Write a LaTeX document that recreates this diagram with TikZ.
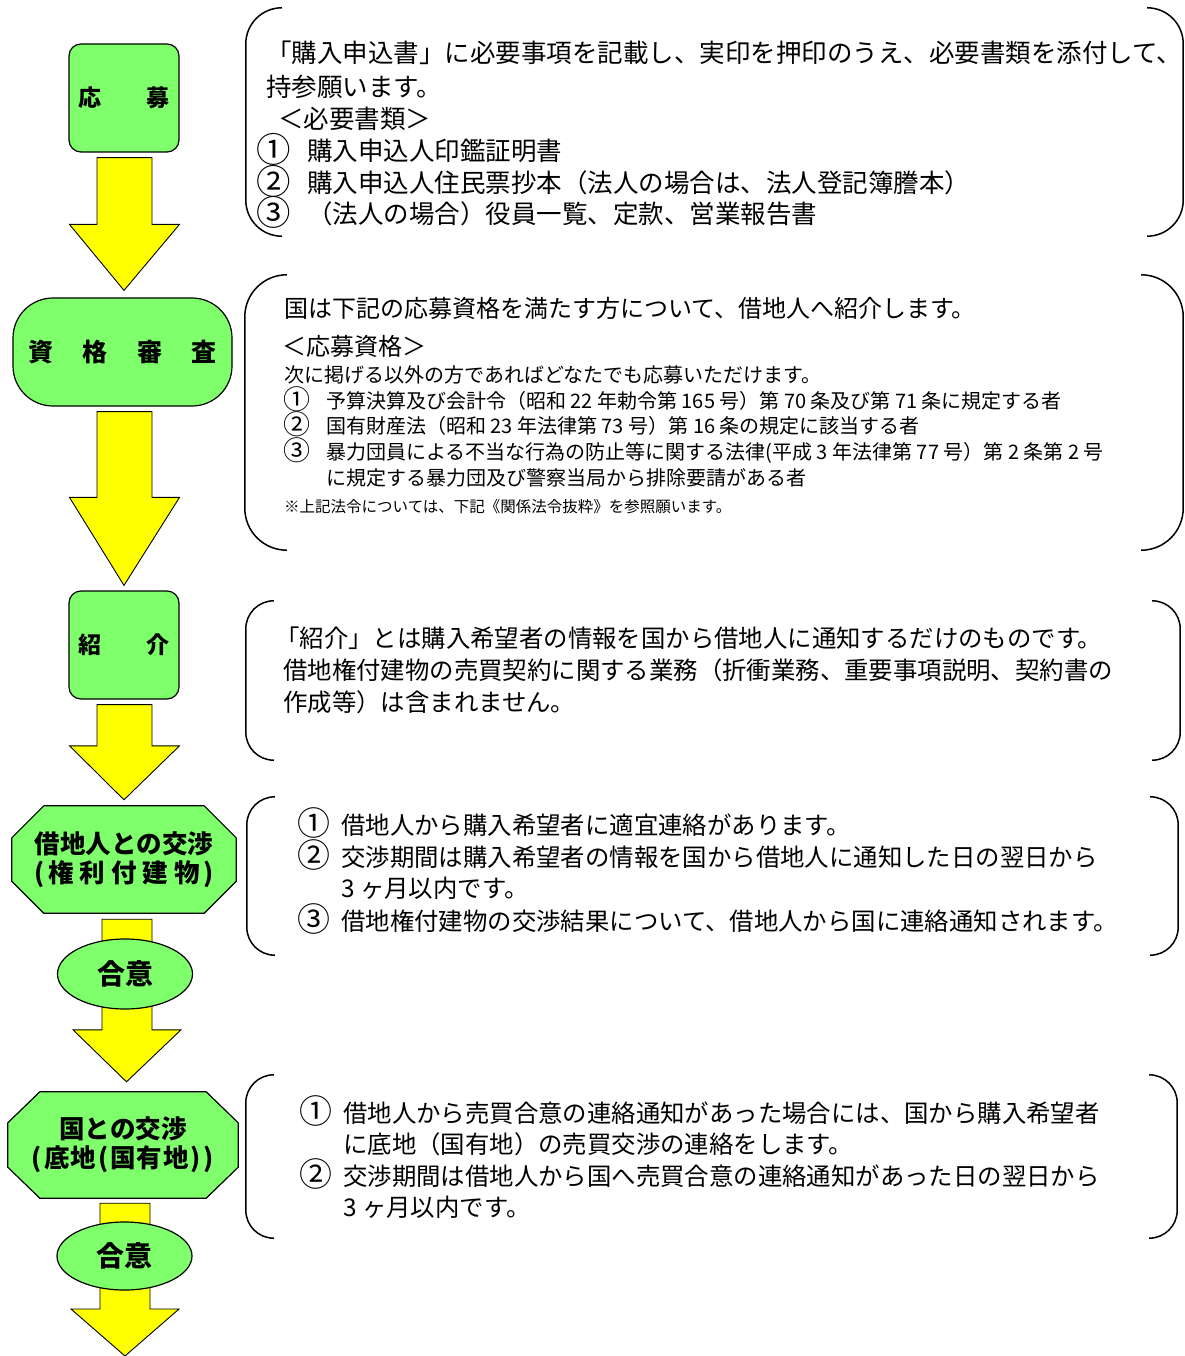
\documentclass[tikz,border=0pt]{standalone}
\usepackage{graphicx}
\usepackage{fontspec}
\setmainfont{Noto Sans CJK JP}
\usetikzlibrary{calc,shapes.geometric,backgrounds}
\definecolor{gfill}{RGB}{128,255,108}
\definecolor{yfill}{RGB}{255,255,0}
\newcommand\cnum[2]{\makebox[#1][l]{\raisebox{-0.06em}{\scalebox{1.35}{#2}}}}
\newcommand\blockarrow[5]{\draw[yarrow] let \p1=(#1), \p2=(#2) in
  (\x1-#4pt,\y1) -- (\x1+#4pt,\y1) -- (\x1+#4pt,\y2+#3pt) -- (\x1+#5pt,\y2+#3pt)
  -- (\x2,\y2) -- (\x1-#5pt,\y2+#3pt) -- (\x1-#4pt,\y2+#3pt) -- cycle;}
\newcommand\bracketpair[2]{%
  \draw[bline] ([xshift=#2pt]#1.north west) arc[start angle=90,end angle=180,radius=#2pt]
     -- ([yshift=#2pt]#1.south west) arc[start angle=180,end angle=270,radius=#2pt];
  \draw[bline] ([xshift=-#2pt]#1.north east) arc[start angle=90,end angle=0,radius=#2pt]
     -- ([yshift=#2pt]#1.south east) arc[start angle=0,end angle=-90,radius=#2pt];}
\newcommand\octagon[3]{%
  \draw[octline] ([xshift=#2pt]#1.north west) -- ([xshift=-#2pt]#1.north east)
    -- ([yshift=-#3pt]#1.north east) -- ([yshift=#3pt]#1.south east)
    -- ([xshift=-#2pt]#1.south east) -- ([xshift=#2pt]#1.south west)
    -- ([yshift=#3pt]#1.south west) -- ([yshift=-#3pt]#1.north west) -- cycle;}
\tikzset{
  sbox/.style={draw=black, line width=1.2pt, fill=gfill, inner sep=0pt, align=center,
     font=\bfseries\fontsize{23}{28}\selectfont},
  roundbox/.style={sbox, rectangle, rounded corners=12pt, minimum width=110pt, minimum height=108pt},
  pillbox/.style={sbox, rectangle, rounded corners=40pt, minimum width=219pt, minimum height=108pt,
     font=\bfseries\fontsize{25}{28}\selectfont},
  octbox/.style={rectangle, inner sep=0pt, align=center, minimum height=107pt,
     font=\bfseries\fontsize{25.5}{29}\selectfont},
  octline/.style={draw=black, line width=1.2pt, fill=gfill, line join=miter},
  ovalbox/.style={sbox, ellipse, minimum width=135pt, minimum height=70pt,
     font=\bfseries\fontsize{28}{30}\selectfont},
  yarrow/.style={draw=black, line width=0.9pt, fill=yfill, line join=miter},
  bline/.style={draw=black, line width=1.5pt},
  frame/.style={rectangle, inner sep=0pt, draw=none},
  txt/.style={anchor=base west, inner sep=0pt},
  fA/.style={txt, font=\fontsize{25.5}{30}\selectfont},
  fB/.style={txt, font=\fontsize{24}{30}\selectfont},
  fC/.style={txt, font=\fontsize{20}{24}\selectfont},
  fD/.style={txt, font=\fontsize{15.5}{18}\selectfont},
  fE/.style={txt, font=\fontsize{24.4}{30}\selectfont},
}
\begin{document}
\begin{tikzpicture}[x=1pt,y=-1pt]
\useasboundingbox (0,0) rectangle (1184,1356);

% ---- left column shapes ----
\node[roundbox] (n1) at (124,98) {応\hspace{45pt}募};
\node[pillbox] (n2) at (122.5,352) {資\hspace{29.5pt}格\hspace{29.5pt}審\hspace{29.5pt}査};
\node[roundbox] (n3) at (124,645) {紹\hspace{45pt}介};
\node[octbox, minimum width=224pt] (o4) at (124,859.5)
  {借地人との交渉\\(\hspace{4pt}権\hspace{6pt}利\hspace{6pt}付\hspace{6pt}建\hspace{6pt}物\hspace{4pt})};
\node[ovalbox] (e4) at (125,974) {合意};
\node[octbox, minimum width=230pt, minimum height=106pt] (o5) at (123,1145)
  {国との交渉\\(\hspace{2pt}底\hspace{1pt}地\hspace{2pt}(\hspace{2pt}国\hspace{1pt}有\hspace{1pt}地\hspace{2pt})\hspace{3pt})};
\node[ovalbox, minimum height=68pt] (e5) at (124.5,1256) {合意};

\coordinate (a1s) at ($(n1.south)+(0.5,5)$);
\coordinate (a1e) at ($(n2.north)+(1.5,-7)$);
\coordinate (a2s) at ($(n2.south)+(2,5)$);
\coordinate (a2e) at ($(n3.north)+(0,-5)$);
\coordinate (a3s) at ($(n3.south)+(0.5,5)$);
\coordinate (a3e) at ($(o4.north)+(0,-6)$);
\coordinate (a4s) at ($(o4.south)+(3,6)$);
\coordinate (a4e) at ($(o5.north)+(3.5,-10)$);
\coordinate (a5s) at ($(o5.south)+(2,5)$);
\coordinate (a5e) at (125,1356);

\begin{scope}[on background layer]
  \fill[white] (0,0) rectangle (1184,1356);
  \octagon{o4}{32}{32}
  \octagon{o5}{32}{31}
  \blockarrow{a1s}{a1e}{66}{27.5}{55}
  \blockarrow{a2s}{a2e}{88}{27.5}{55}
  \blockarrow{a3s}{a3e}{54}{27.5}{55}
  \blockarrow{a4s}{a4e}{52}{25}{54}
  \blockarrow{a5s}{a5e}{47}{25}{54}
\end{scope}

% ---- bracket frames ----
\node[frame, minimum width=937pt, minimum height=228pt] (b1) at (714.5,122) {};
\node[frame, minimum width=938pt, minimum height=275pt] (b2) at (714,412.5) {};
\node[frame, minimum width=934pt, minimum height=159pt] (b3) at (713,680.5) {};
\node[frame, minimum width=931pt, minimum height=158pt] (b4) at (712.5,876) {};
\node[frame, minimum width=931pt, minimum height=163pt] (b5) at (711.5,1156.5) {};
\bracketpair{b1}{36}
\bracketpair{b2}{42}
\bracketpair{b3}{28}
\bracketpair{b4}{28}
\bracketpair{b5}{28}

% ---- box 1 text ----
\node[fA] (t1a) at (266,62.7) {「購入申込書」に必要事項を記載し、実印を押印のうえ、必要書類を添付して、};
\node[fA] (t1b) at (266,96.7) {持参願います。};
\node[fA] (t1c) at (278,128.7) {＜必要書類＞};
\node[fA] (t1d) at (256,160.7) {\cnum{51pt}{①}購入申込人印鑑証明書};
\node[fA] (t1e) at (256,192.7) {\cnum{51pt}{②}購入申込人住民票抄本（法人の場合は、法人登記簿謄本）};
\node[fA] (t1f) at (256,223.7) {\cnum{51pt}{③}（法人の場合）役員一覧、定款、営業報告書};

% ---- box 2 text ----
\node[fB] (t2a) at (284,317.1) {国は下記の応募資格を満たす方について、借地人へ紹介します。};
\node[fB] (t2b) at (282,355.1) {＜応募資格＞};
\node[fC] (t2c) at (284,382.6) {次に掲げる以外の方であればどなたでも応募いただけます。};
\node[fC] (t2d) at (283,408.6) {\cnum{43pt}{①}予算決算及び会計令（昭和 22 年勅令第 165 号）第 70 条及び第 71 条に規定する者};
\node[fC] (t2e) at (283,433.6) {\cnum{43pt}{②}国有財産法（昭和 23 年法律第 73 号）第 16 条の規定に該当する者};
\node[fC] (t2f) at (283,459.6) {\cnum{43pt}{③}暴力団員による不当な行為の防止等に関する法律(平成 3 年法律第 77 号）第 2 条第 2 号};
\node[fC] (t2g) at (326,485.6) {に規定する暴力団及び警察当局から排除要請がある者};
\node[fD] (t2h) at (284,512.9) {※上記法令については、下記《関係法令抜粋》を参照願います。};

% ---- box 3 text ----
\node[fE] (t3a) at (275,647.3) {「紹介」とは購入希望者の情報を国から借地人に通知するだけのものです。};
\node[fE] (t3b) at (283,679.3) {借地権付建物の売買契約に関する業務（折衝業務、重要事項説明、契約書の};
\node[fE] (t3c) at (283,711.3) {作成等）は含まれません。};

% ---- box 4 text ----
\node[fE] (t4a) at (297,834.3) {\cnum{44pt}{①}借地人から購入希望者に適宜連絡があります。};
\node[fE] (t4b) at (297,866.3) {\cnum{44pt}{②}交渉期間は購入希望者の情報を国から借地人に通知した日の翌日から};
\node[fE] (t4c) at (341,897.3) {3 ヶ月以内です。};
\node[fE] (t4d) at (297,930.3) {\cnum{44pt}{③}借地権付建物の交渉結果について、借地人から国に連絡通知されます。};

% ---- box 5 text ----
\node[fE] (t5a) at (299,1122.3) {\cnum{44pt}{①}借地人から売買合意の連絡通知があった場合には、国から購入希望者};
\node[fE] (t5b) at (343,1153.3) {に底地（国有地）の売買交渉の連絡をします。};
\node[fE] (t5c) at (299,1185.3) {\cnum{44pt}{②}交渉期間は借地人から国へ売買合意の連絡通知があった日の翌日から};
\node[fE] (t5d) at (343,1216.3) {3 ヶ月以内です。};
\end{tikzpicture}
\end{document}
